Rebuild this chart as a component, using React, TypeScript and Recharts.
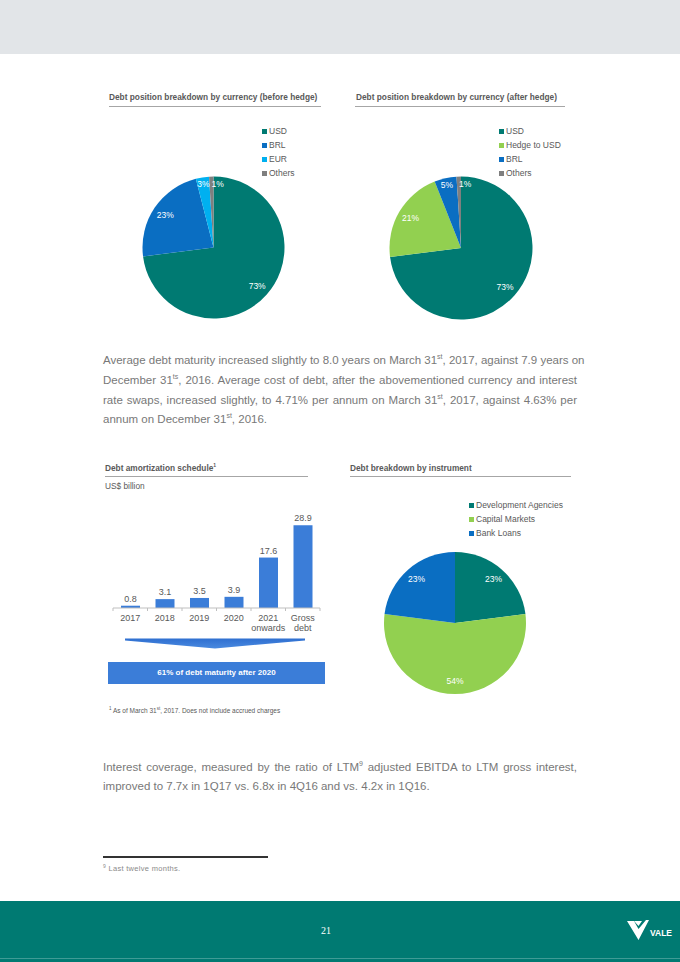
import React from 'react';
import { PieChart, Pie, Cell, Legend, BarChart, Bar, XAxis, YAxis, LabelList } from 'recharts';

// ---------- data ----------
const beforeHedgeLabels = ['USD', 'BRL', 'EUR', 'Others'];
const beforeHedgeValues = [73, 23, 3, 1];

const afterHedgeLabels = ['USD', 'Hedge to USD', 'BRL', 'Others'];
const afterHedgeValues = [73, 21, 5, 1];

const instrumentLabels = ['Development Agencies', 'Capital Markets', 'Bank Loans'];
const instrumentValues = [23, 54, 23];

const amortCategories = ['2017', '2018', '2019', '2020', '2021 onwards', 'Gross debt'];
const amortValues = [0.8, 3.1, 3.5, 3.9, 17.6, 28.9];

// ---------- styles ----------
const FONT = '"Liberation Sans", Arial, Helvetica, sans-serif';
const TEAL = '#007a72';
const GREEN = '#92d050';
const BLUE = '#0a6ec2';
const LIGHTBLUE = '#00b0f0';
const GRAY = '#7f7f7f';
const BAR_BLUE = '#3b7dd8';
const TITLE_COLOR = '#595959';
const TEXT_COLOR = '#787878';

const beforeColors = [TEAL, BLUE, LIGHTBLUE, GRAY];
const afterColors = [TEAL, GREEN, BLUE, GRAY];
const instrumentColors = [TEAL, GREEN, BLUE];

const RADIAN = Math.PI / 180;

const makeLabel = (count: number) => (props: any) => {
  const { cx, cy, midAngle, outerRadius, value, index, percent } = props;
  const small = percent < 0.06;
  const r = outerRadius * (small ? 0.9 : 0.82);
  const x = cx + r * Math.cos(-midAngle * RADIAN);
  const y = cy + r * Math.sin(-midAngle * RADIAN);
  const anchor = small && index === count - 1 ? 'start' : 'middle';
  return (
    <text x={x} y={y} fill="#ffffff" fontSize={8.5} fontFamily={FONT} textAnchor={anchor} dominantBaseline="central">
      {`${value}%`}
    </text>
  );
};

const makeLegend = (labels: string[], colors: string[], fontSize: number, rowH: number) => (props: any) => {
  const payload = [...(props.payload || [])].sort(
    (a: any, b: any) => labels.indexOf(a.value) - labels.indexOf(b.value)
  );
  return (
    <div style={{ fontFamily: FONT }}>
      {payload.map((e: any, i: number) => (
        <div key={i} style={{ display: 'flex', alignItems: 'center', height: rowH, fontSize, color: TITLE_COLOR, whiteSpace: 'nowrap' }}>
          <span style={{ display: 'inline-block', width: 5, height: 5, background: colors[labels.indexOf(e.value)], marginRight: 2 }} />
          <span>{e.value}</span>
        </div>
      ))}
    </div>
  );
};

type PieProps = {
  labels: string[];
  values: number[];
  colors: string[];
  left: number;
  top: number;
  width: number;
  height: number;
  cx: number;
  cy: number;
  r: number;
  legendLeft: number;
  legendTop: number;
};

function PieBlock(p: PieProps) {
  const data = p.labels.map((name, i) => ({ name, value: p.values[i] }));
  return (
    <div style={{ position: 'absolute', left: p.left, top: p.top }}>
      <PieChart width={p.width} height={p.height} margin={{ top: 0, right: 0, bottom: 0, left: 0 }}>
        <Pie
          data={data}
          dataKey="value"
          nameKey="name"
          cx={p.cx}
          cy={p.cy}
          outerRadius={p.r}
          startAngle={90}
          endAngle={-270}
          stroke="none"
          label={makeLabel(data.length)}
          labelLine={false}
          isAnimationActive={false}
        >
          {data.map((d, i) => (
            <Cell key={d.name} fill={p.colors[i]} />
          ))}
        </Pie>
        <Legend
          layout="horizontal"
          verticalAlign="middle"
          align="center"
          itemSorter={(item: any) => p.labels.indexOf(item.value)}
          content={makeLegend(p.labels, p.colors, 8.5, 14)}
          wrapperStyle={{ left: p.legendLeft, top: p.legendTop, width: 'auto', height: 'auto' }}
        />
      </PieChart>
    </div>
  );
}

const AmortTick = (props: any) => {
  const { x, y, payload, width, visibleTicksCount, index } = props;
  const band = payload && payload.offset ? payload.offset * 2 : width && visibleTicksCount ? width / visibleTicksCount : 34.5;
  const words = String(payload.value).split(' ');
  const axisY = y - 8;
  return (
    <g>
      <line x1={x - band / 2} y1={axisY} x2={x - band / 2} y2={axisY + 3} stroke="#bfbfbf" />
      {index === visibleTicksCount - 1 && (
        <line x1={x + band / 2} y1={axisY} x2={x + band / 2} y2={axisY + 3} stroke="#bfbfbf" />
      )}
      <text x={x} y={y} textAnchor="middle" fill={TITLE_COLOR} fontSize={9} fontFamily={FONT}>
        {words.map((w, i) => (
          <tspan key={i} x={x} dy={i === 0 ? 4.5 : 10.5}>
            {w}
          </tspan>
        ))}
      </text>
    </g>
  );
};

function AmortChart() {
  const data = amortCategories.map((name, i) => ({ name, value: amortValues[i] }));
  return (
    <div style={{ position: 'absolute', left: 100, top: 500 }}>
      <BarChart width={230} height={140} data={data} margin={{ top: 22, right: 10, bottom: 0, left: 13 }}>
        <XAxis dataKey="name" height={32} interval={0} tickLine={false} axisLine={{ stroke: '#bfbfbf' }} tick={<AmortTick />} />
        <YAxis hide domain={[0, 30]} />
        <Bar dataKey="value" fill={BAR_BLUE} barSize={19} isAnimationActive={false}>
          <LabelList dataKey="value" position="top" fill={TITLE_COLOR} fontSize={9} fontFamily={FONT} offset={4} />
        </Bar>
      </BarChart>
    </div>
  );
}

const titleStyle: React.CSSProperties = {
  position: 'absolute',
  fontFamily: FONT,
  fontWeight: 'bold',
  fontSize: 8.3,
  color: TITLE_COLOR,
  whiteSpace: 'nowrap',
  lineHeight: '10px',
};

const rule = (left: number, top: number, width: number): React.CSSProperties => ({
  position: 'absolute',
  left,
  top,
  width,
  height: 1,
  background: '#a6a6a6',
});

const Sup = ({ children }: { children: React.ReactNode }) => (
  <sup style={{ fontSize: 7, lineHeight: 0, verticalAlign: 'super' }}>{children}</sup>
);

const lineStyle = (top: number, last?: boolean): React.CSSProperties => ({
  position: 'absolute',
  left: 103,
  top,
  width: 474,
  fontFamily: FONT,
  fontSize: 11.5,
  color: TEXT_COLOR,
  lineHeight: '14px',
  textAlign: last ? 'left' : 'justify',
  textAlignLast: last ? 'left' : 'justify',
  whiteSpace: 'nowrap',
});

export default function App() {
  return (
    <div
      style={{
        position: 'absolute',
        left: 0,
        top: 0,
        width: 680,
        height: 962,
        background: '#ffffff',
        overflow: 'hidden',
        fontFamily: FONT,
      }}
    >
      {/* header band */}
      <div style={{ position: 'absolute', left: 0, top: 0, width: 680, height: 54, background: '#e2e5e8' }} />

      {/* top titles */}
      <div style={{ ...titleStyle, left: 109, top: 92 }}>Debt position breakdown by currency (before hedge)</div>
      <div style={rule(109, 106, 212)} />
      <div style={{ ...titleStyle, left: 356, top: 92 }}>Debt position breakdown by currency (after hedge)</div>
      <div style={rule(355, 106, 210)} />

      <PieBlock
        labels={beforeHedgeLabels}
        values={beforeHedgeValues}
        colors={beforeColors}
        left={100}
        top={110}
        width={240}
        height={215}
        cx={113.5}
        cy={137.5}
        r={71}
        legendLeft={162}
        legendTop={14}
      />
      <PieBlock
        labels={afterHedgeLabels}
        values={afterHedgeValues}
        colors={afterColors}
        left={345}
        top={110}
        width={240}
        height={215}
        cx={116}
        cy={138}
        r={71.5}
        legendLeft={154}
        legendTop={14}
      />

      {/* paragraph 1 */}
      <div style={lineStyle(353)}>
        Average debt maturity increased slightly to 8.0 years on March 31<Sup>st</Sup>, 2017, against 7.9 years on
      </div>
      <div style={lineStyle(373)}>
        December 31<Sup>ts</Sup>, 2016. Average cost of debt, after the abovementioned currency and interest
      </div>
      <div style={lineStyle(393)}>
        rate swaps, increased slightly, to 4.71% per annum on March 31<Sup>st</Sup>, 2017, against 4.63% per
      </div>
      <div style={lineStyle(412, true)}>
        annum on December 31<Sup>st</Sup>, 2016.
      </div>

      {/* bottom titles */}
      <div style={{ ...titleStyle, left: 105, top: 463 }}>
        Debt amortization schedule<sup style={{ fontSize: 5, lineHeight: 0 }}>1</sup>
      </div>
      <div style={rule(105, 476, 203)} />
      <div style={{ ...titleStyle, fontWeight: 'normal', fontSize: 8.3, left: 105, top: 481 }}>US$ billion</div>

      <div style={{ ...titleStyle, left: 350, top: 463 }}>Debt breakdown by instrument</div>
      <div style={rule(350, 476, 221)} />

      <AmortChart />

      {/* arrow + box */}
      <svg style={{ position: 'absolute', left: 0, top: 0 }} width={680} height={700}>
        <defs>
          <linearGradient id="arrowGrad" x1="0" y1="0" x2="0" y2="1">
            <stop offset="0%" stopColor="#2f6fd0" />
            <stop offset="100%" stopColor="#4a8ae0" />
          </linearGradient>
        </defs>
        <polygon points="125,638.5 305,638.5 305,640.5 215,648.5 125,640.5" fill="url(#arrowGrad)" />
      </svg>
      <div
        style={{
          position: 'absolute',
          left: 108,
          top: 662,
          width: 217,
          height: 22,
          background: BAR_BLUE,
          color: '#ffffff',
          fontFamily: FONT,
          fontWeight: 'bold',
          fontSize: 8,
          lineHeight: '22px',
          textAlign: 'center',
        }}
      >
        61% of debt maturity after 2020
      </div>
      <div
        style={{
          position: 'absolute',
          left: 109,
          top: 707,
          fontFamily: FONT,
          fontSize: 6.5,
          color: TITLE_COLOR,
          whiteSpace: 'nowrap',
          lineHeight: '8px',
        }}
      >
        <sup style={{ fontSize: 4.5, lineHeight: 0 }}>1</sup> As of March 31<sup style={{ fontSize: 4.5, lineHeight: 0 }}>st</sup>, 2017. Does not include accrued charges
      </div>

      <PieBlock
        labels={instrumentLabels}
        values={instrumentValues}
        colors={instrumentColors}
        left={345}
        top={480}
        width={240}
        height={220}
        cx={110}
        cy={143}
        r={71}
        legendLeft={124}
        legendTop={18}
      />

      {/* paragraph 2 */}
      <div style={lineStyle(760)}>
        Interest coverage, measured by the ratio of LTM<Sup>9</Sup> adjusted EBITDA to LTM gross interest,
      </div>
      <div style={lineStyle(779, true)}>improved to 7.7x in 1Q17 vs. 6.8x in 4Q16 and vs. 4.2x in 1Q16.</div>

      {/* footnote */}
      <div style={{ position: 'absolute', left: 103, top: 856, width: 165, height: 1.5, background: '#333333' }} />
      <div
        style={{
          position: 'absolute',
          left: 103,
          top: 864,
          fontFamily: FONT,
          fontSize: 7.5,
          color: '#8a8a8a',
          whiteSpace: 'nowrap',
          lineHeight: '10px',
          letterSpacing: 0.3,
        }}
      >
        <sup style={{ fontSize: 5, lineHeight: 0 }}>9</sup> Last twelve months.
      </div>

      {/* footer */}
      <div style={{ position: 'absolute', left: 0, top: 901, width: 680, height: 61, background: TEAL }} />
      <div style={{ position: 'absolute', left: 0, top: 958, width: 680, height: 1, background: '#3f9b95' }} />
      <div
        style={{
          position: 'absolute',
          left: 316,
          top: 925,
          width: 20,
          textAlign: 'center',
          color: '#ffffff',
          fontFamily: '"Liberation Serif", "Times New Roman", serif',
          fontSize: 10,
          lineHeight: '12px',
        }}
      >
        21
      </div>
      <svg style={{ position: 'absolute', left: 620, top: 915 }} width={60} height={30}>
        <polygon points="7,6 14,6 18.5,14 26,5 29,5 18.5,25" fill="#ffffff" />
        <polygon points="14,6 22,6 18.5,11" fill="#ffffff" />
        <text x={30} y={21} fill="#ffffff" fontFamily={FONT} fontWeight="bold" fontSize={8.5}>
          VALE
        </text>
      </svg>
    </div>
  );
}
